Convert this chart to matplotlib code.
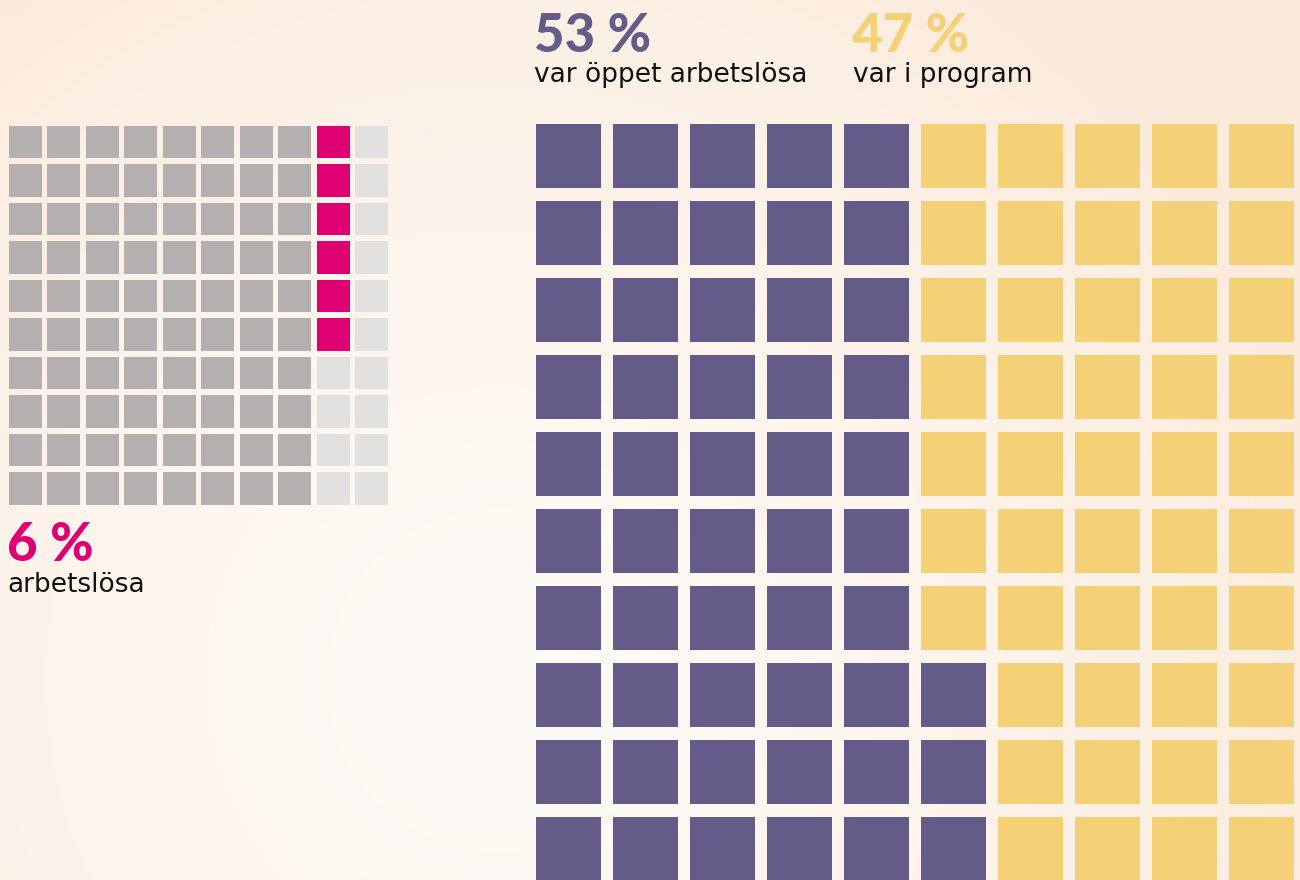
import numpy as np
import matplotlib
matplotlib.use("Agg")
import matplotlib.pyplot as plt
from matplotlib.patches import Rectangle

# ---- data ----
left_labels = ["sysselsatta", "arbetslösa", "utanför"]
left_counts = [80, 6, 14]          # fill order: columns left->right, top->bottom
left_colors = ["#b4b0af", "#de0072", "#e3e1df"]

right_labels = ["var öppet arbetslösa", "var i program"]
right_counts = [53, 47]            # fill order: columns left->right, bottom->top
right_colors = ["#635c88", "#f4d176"]

pct_left = "6 %"
pct_right = ["53 %", "47 %"]

W, H = 1300, 880
fig = plt.figure(figsize=(W / 100, H / 100), dpi=100)

# background radial gradient
bg = fig.add_axes([0, 0, 1, 1])
yy, xx = np.mgrid[0:H, 0:W]
cx, cy = 500, 680
r = np.sqrt((xx - cx) ** 2 + ((yy - cy) * 1.0) ** 2) / 900.0
r = np.clip(r, 0, 1)
c_in = np.array([254, 251, 247]) / 255
c_out = np.array([252, 234, 219]) / 255
t = r[..., None] ** 1.3
img = c_in * (1 - t) + c_out * t
bg.imshow(img, extent=[0, W, H, 0], aspect="auto")
bg.set_xlim(0, W)
bg.set_ylim(H, 0)
bg.axis("off")

ax = fig.add_axes([0, 0, 1, 1])
ax.set_xlim(0, W)
ax.set_ylim(H, 0)
ax.axis("off")
ax.patch.set_alpha(0)


def waffle(ax, counts, colors, x0, y0, pitch_x, pitch_y, cw, ch, order):
    cells = []
    for c, col in zip(counts, colors):
        cells += [col] * c
    pos = []
    if order == "lr_tb":
        for ci in range(10):
            for ri in range(10):
                pos.append((ci, ri))
    else:  # lr_bt
        for ci in range(10):
            for ri in range(9, -1, -1):
                pos.append((ci, ri))
    for (ci, ri), col in zip(pos, cells):
        ax.add_patch(Rectangle((x0 + ci * pitch_x, y0 + ri * pitch_y), cw, ch,
                               facecolor=col, edgecolor="none"))


waffle(ax, left_counts, left_colors, 9, 126, 38.45, 38.45, 33, 32.5, "lr_tb")
waffle(ax, right_counts, right_colors, 536, 124, 77, 77, 65, 64.5, "lr_bt")

font = "Lato"
num_weight = "black"
lab_font = "DejaVu Sans"
lab_size = 19
ax.text(534, 52, pct_right[0], color=right_colors[0], fontsize=38, fontweight=num_weight,
        family=font, va="baseline", ha="left")
ax.text(852, 52, pct_right[1], color=right_colors[1], fontsize=38, fontweight=num_weight,
        family=font, va="baseline", ha="left")
ax.text(534, 82, right_labels[0], color="#111111", fontsize=lab_size, family=lab_font,
        va="baseline", ha="left")
ax.text(853, 82, right_labels[1], color="#111111", fontsize=lab_size, family=lab_font,
        va="baseline", ha="left")

ax.text(7, 561, pct_left, color=left_colors[1], fontsize=38, fontweight=num_weight,
        family=font, va="baseline", ha="left")
ax.text(7, 592, left_labels[1], color="#111111", fontsize=lab_size, family=lab_font,
        va="baseline", ha="left")

fig.savefig("out.png", dpi=100)
